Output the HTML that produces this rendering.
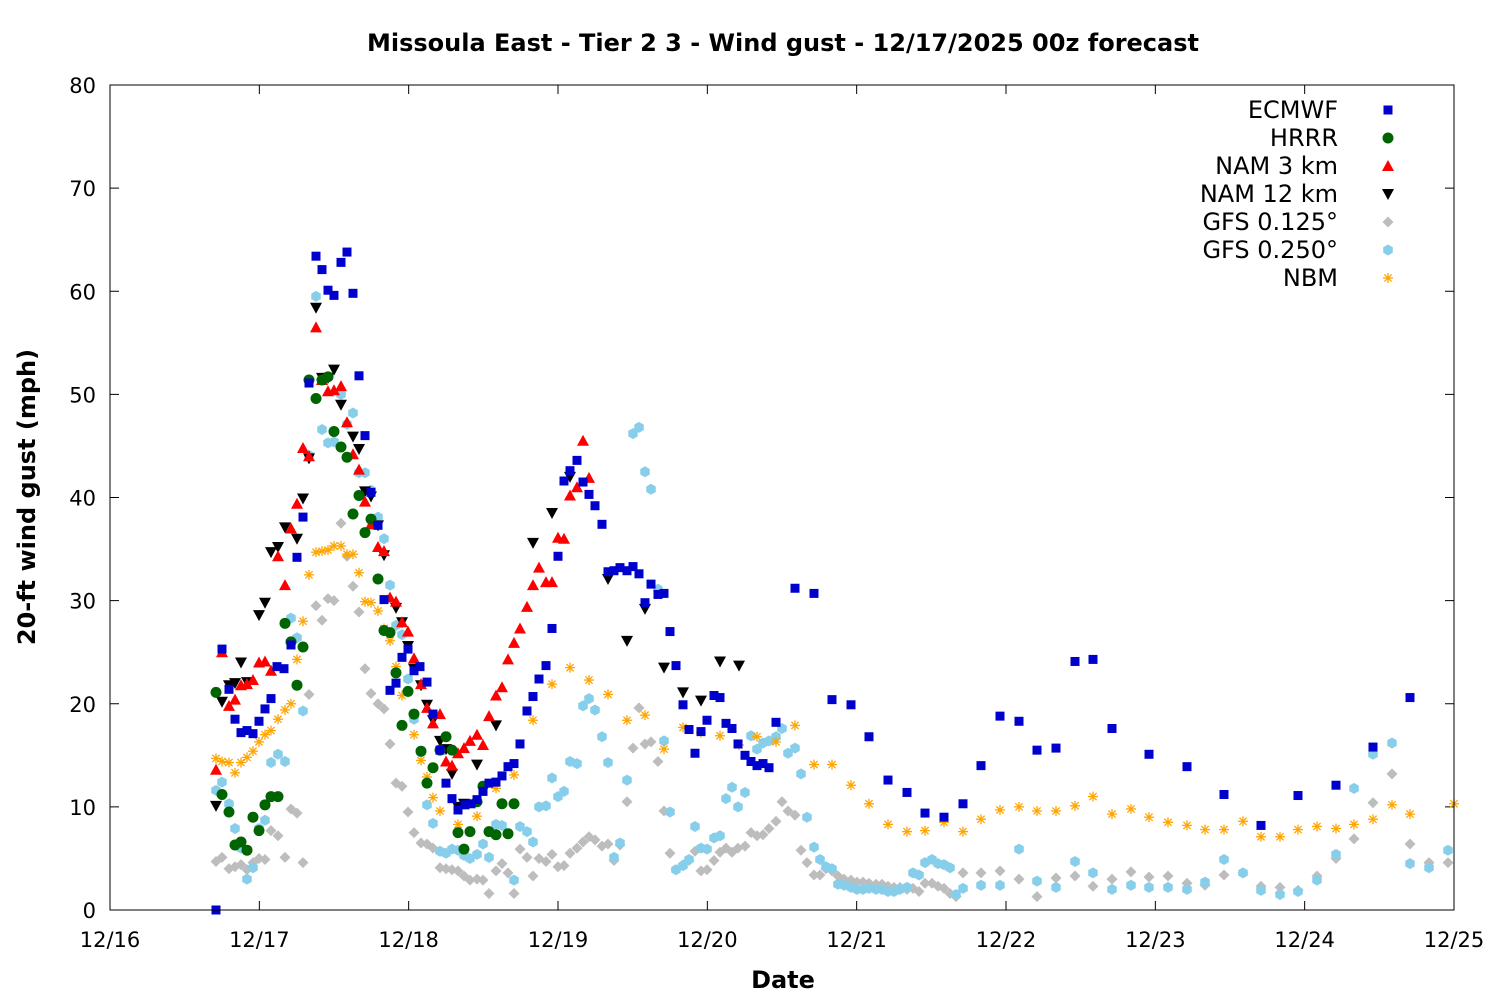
<!DOCTYPE html>
<html><head><meta charset="utf-8"><style>
body{margin:0;background:#fff}
svg{display:block;font-family:"DejaVu Sans","Liberation Sans",sans-serif}
</style></head><body>
<svg id="s" width="1500" height="1000" xmlns="http://www.w3.org/2000/svg">
<rect width="1500" height="1000" fill="#fff"/>
<text x="783" y="51" text-anchor="middle" font-size="24" font-weight="bold">Missoula East - Tier 2 3 - Wind gust - 12/17/2025 00z forecast</text>
<text x="783" y="988" text-anchor="middle" font-size="24" font-weight="bold">Date</text>
<text transform="translate(35,497) rotate(-90)" text-anchor="middle" font-size="24" font-weight="bold">20-ft wind gust (mph)</text>
<g id="ax"></g>
<g id="pts"></g>
<g id="leg" font-size="24" text-anchor="end">
<text x="1338" y="118">ECMWF</text>
<text x="1338" y="146">HRRR</text>
<text x="1338" y="174">NAM 3 km</text>
<text x="1338" y="202">NAM 12 km</text>
<text x="1338" y="230">GFS 0.125°</text>
<text x="1338" y="258">GFS 0.250°</text>
<text x="1338" y="286">NBM</text>
</g>
<rect x="110" y="85" width="1344" height="825" fill="none" stroke="#000" stroke-width="1"/>
</svg>
<script>
const NS="http://www.w3.org/2000/svg";
function el(p,t,a,txt){const e=document.createElementNS(NS,t);for(const k in a)e.setAttribute(k,a[k]);if(txt!==undefined)e.textContent=txt;p.appendChild(e);return e;}
const ax=document.getElementById('ax');
const Y=v=>910-v*825/80;
for(let i=0;i<=8;i++){const v=i*10,y=Y(v);
 el(ax,'line',{x1:110,y1:y,x2:119,y2:y,stroke:'#000'});
 el(ax,'line',{x1:1445,y1:y,x2:1454,y2:y,stroke:'#000'});
 el(ax,'text',{x:96,y:y+8,'text-anchor':'end','font-size':21},String(v));}
for(let i=0;i<=9;i++){const x=110+i*1344/9;
 el(ax,'line',{x1:x,y1:910,x2:x,y2:901,stroke:'#000'});
 el(ax,'line',{x1:x,y1:85,x2:x,y2:94,stroke:'#000'});
 el(ax,'text',{x:x,y:947,'text-anchor':'middle','font-size':21},'12/'+(16+i));}
const P=document.getElementById('pts');
function mk(t,x,y){
 if(t==0)el(P,'rect',{x:x-4.5,y:y-4.5,width:9,height:9,fill:'#0000cc'});
 else if(t==1)el(P,'circle',{cx:x,cy:y,r:5.5,fill:'#006400'});
 else if(t==2)el(P,'polygon',{points:`${x},${y-6} ${x-6},${y+5} ${x+6},${y+5}`,fill:'#ff0000'});
 else if(t==3)el(P,'polygon',{points:`${x},${y+6} ${x-6},${y-5} ${x+6},${y-5}`,fill:'#000'});
 else if(t==4)el(P,'polygon',{points:`${x},${y-5.5} ${x+5.5},${y} ${x},${y+5.5} ${x-5.5},${y}`,fill:'#bdbdbd'});
 else if(t==5){let s='';for(let k=0;k<6;k++){const a=Math.PI/3*k+Math.PI/6;s+=(x+5.5*Math.cos(a))+','+(y+5.5*Math.sin(a))+' ';}el(P,'polygon',{points:s,fill:'#87ceeb'});}
 else {const g={stroke:'#ffa500','stroke-width':1.3};
  el(P,'line',{x1:x-5,y1:y,x2:x+5,y2:y,...g});el(P,'line',{x1:x,y1:y-5,x2:x,y2:y+5,...g});
  el(P,'line',{x1:x-3.6,y1:y-3.6,x2:x+3.6,y2:y+3.6,...g});el(P,'line',{x1:x-3.6,y1:y+3.6,x2:x+3.6,y2:y-3.6,...g});}
}
const D=[
"216,0;222,25.3;229,21.4;235,18.5;241,17.2;247,17.4;253,17.1;259,18.3;265,19.5;271,20.5;277,23.6;284,23.4;291,25.7;297,34.2;303,38.1;309,51.1;316,63.4;322,62.1;328,60.1;334,59.6;341,62.8;347,63.8;353,59.8;359,51.8;365,46.0;371,40.5;378,37.3;384,30.1;390,21.3;396,22.0;402,24.5;408,25.3;414,23.2;420,23.6;427,22.1;433,19.0;440,15.5;446,12.3;452,10.8;458,9.7;465,10.2;471,10.3;477,10.7;483,11.5;489,12.3;496,12.4;502,13.0;508,13.9;514,14.2;520,16.1;527,19.3;533,20.7;539,22.4;546,23.7;552,27.3;558,34.3;564,41.6;570,42.6;577,43.6;583,41.5;589,40.3;595,39.2;602,37.4;608,32.8;614,32.9;620,33.2;627,32.9;633,33.3;639,32.6;645,29.8;651,31.6;658,30.6;664,30.7;670,27.0;676,23.7;683,19.9;689,17.5;695,15.2;701,17.3;707,18.4;714,20.8;720,20.6;726,18.1;732,17.6;738,16.1;745,15.0;751,14.4;757,14.0;763,14.2;769,13.8;776,18.2;795,31.2;814,30.7;832,20.4;851,19.9;869,16.8;888,12.6;907,11.4;925,9.4;944,9.0;963,10.3;981,14.0;1000,18.8;1019,18.3;1037,15.5;1056,15.7;1075,24.1;1093,24.3;1112,17.6;1149,15.1;1187,13.9;1224,11.2;1261,8.2;1298,11.1;1336,12.1;1373,15.8;1410,20.6",
"216,21.1;222,11.2;229,9.5;235,6.3;241,6.6;247,5.8;253,9.0;259,7.7;265,10.2;271,11.0;278,11.0;285,27.8;291,26.0;297,21.8;303,25.5;309,51.4;316,49.6;322,51.4;328,51.7;334,46.4;341,44.9;347,43.9;353,38.4;359,40.2;365,36.6;371,37.9;378,32.1;384,27.1;390,26.9;396,23.0;402,17.9;408,21.2;414,19.0;421,15.4;427,12.3;433,13.8;440,15.5;446,16.8;452,15.5;458,7.5;464,5.9;470,7.6;477,10.5;483,12.0;489,7.6;496,7.3;502,10.3;508,7.4;514,10.3",
"216,13.6;222,25.0;229,19.8;235,20.4;241,21.8;247,21.9;253,22.3;259,24.0;265,24.1;271,23.2;278,34.3;285,31.5;291,37.0;297,39.4;303,44.8;309,44.0;316,56.5;322,51.4;328,50.3;334,50.4;341,50.8;347,47.3;353,44.2;359,42.7;365,39.6;371,37.4;378,35.2;384,34.8;390,30.3;396,29.9;402,27.9;408,27.0;414,24.4;421,21.9;427,19.6;433,18.1;440,19.0;446,14.4;452,14.0;458,15.2;464,15.7;470,16.4;477,17.0;483,16.0;489,18.8;496,20.8;502,21.6;508,24.3;514,25.9;520,27.3;527,29.4;533,31.5;539,33.2;546,31.8;552,31.8;558,36.1;564,36.0;570,40.2;577,41.0;583,45.5;589,41.9",
"216,10.1;222,20.2;229,21.8;235,22.0;241,24.0;247,22.1;259,28.6;265,29.8;271,34.7;278,35.2;285,37.1;297,36.0;303,39.9;309,43.8;316,58.4;322,51.6;328,51.6;334,52.4;341,49.0;353,45.9;359,44.7;365,40.6;371,40.1;378,37.3;384,34.4;396,29.3;402,27.9;408,25.6;414,23.4;421,21.8;427,19.9;433,18.4;440,16.4;446,15.6;452,13.2;458,10.0;464,10.3;477,14.1;496,17.9;533,35.6;552,38.5;570,42.0;608,32.1;627,26.1;645,29.2;664,23.5;683,21.1;701,20.3;720,24.1;739,23.7",
"216,4.7;222,5.1;229,4.0;235,4.2;241,4.4;247,3.9;253,4.6;259,5.0;265,4.9;271,7.7;278,7.2;285,5.1;291,9.8;297,9.4;303,4.6;309,20.9;316,29.5;322,28.1;328,30.2;334,30.0;341,37.5;347,34.3;353,31.4;359,28.9;365,23.4;371,21.0;378,20.0;384,19.5;390,16.1;396,12.3;402,12.0;408,9.5;414,7.5;421,6.5;427,6.4;433,6.0;440,4.1;446,4.0;452,3.9;458,3.8;464,3.3;470,2.9;477,3.0;483,2.9;489,1.6;496,3.8;502,4.5;508,3.6;514,1.6;520,5.9;527,5.1;533,3.3;539,5.0;546,4.7;552,5.4;558,4.2;564,4.3;570,5.5;577,6.0;583,6.6;589,7.1;595,6.8;602,6.2;608,6.4;614,4.8;620,6.3;627,10.5;633,15.7;639,19.6;645,16.1;651,16.3;658,14.4;664,9.6;670,5.5;676,3.9;683,4.4;689,4.8;695,5.7;701,3.8;707,3.9;714,4.8;720,5.6;726,6.0;732,5.6;738,6.0;745,6.2;751,7.5;757,7.2;763,7.3;769,7.9;776,8.6;782,10.5;788,9.6;795,9.2;801,5.8;807,4.6;814,3.4;820,3.4;826,4.0;832,3.8;838,3.3;844,3.0;851,2.9;857,2.7;863,2.7;869,2.6;876,2.5;882,2.5;888,2.3;894,2.2;900,2.2;907,2.0;913,2.1;919,1.8;925,2.6;932,2.6;938,2.3;944,2.1;950,1.6;956,1.3;963,3.6;981,3.6;1000,3.8;1019,3.0;1037,1.3;1056,3.1;1075,3.3;1093,2.3;1112,3.0;1131,3.7;1149,3.2;1168,3.3;1187,2.6;1205,2.4;1224,3.4;1243,3.6;1261,2.3;1280,2.2;1298,1.9;1317,3.3;1336,5.0;1354,6.9;1373,10.4;1392,13.2;1410,6.4;1429,4.6;1448,4.6",
"216,11.6;222,12.4;229,10.3;235,7.9;241,6.0;247,3.0;253,4.1;259,7.9;265,8.7;271,14.3;278,15.1;285,14.4;291,28.3;297,26.4;303,19.3;309,44.1;316,59.5;322,46.6;328,45.3;334,45.4;341,50.0;347,47.1;353,48.2;359,42.4;365,42.4;371,40.7;378,38.1;384,36.0;390,31.5;396,27.6;402,26.7;408,22.4;414,18.5;421,15.3;427,10.2;433,8.4;440,5.7;446,5.5;452,5.9;458,5.8;464,5.3;470,5.0;477,5.4;483,6.4;489,5.1;496,8.3;502,8.2;508,7.4;514,2.9;520,8.1;527,7.6;533,6.6;539,10.0;546,10.1;552,12.8;558,11.0;564,11.5;570,14.4;577,14.2;583,19.8;589,20.5;595,19.4;602,16.8;608,14.3;614,5.1;620,6.5;627,12.6;633,46.2;639,46.8;645,42.5;651,40.8;658,31.1;664,16.4;670,9.5;676,3.9;683,4.3;689,4.9;695,8.1;701,6.0;707,5.9;714,7.0;720,7.2;726,10.8;732,11.9;738,10.0;745,11.4;751,16.9;757,15.6;763,16.2;769,16.4;776,16.8;782,17.6;788,15.2;795,15.7;801,13.2;807,9.0;814,6.1;820,4.9;826,4.2;832,4.0;838,2.5;844,2.4;851,2.2;857,2.0;863,2.0;869,2.1;876,2.0;882,2.0;888,1.8;894,1.8;900,2.0;907,2.2;913,3.6;919,3.4;925,4.6;932,4.9;938,4.5;944,4.4;950,4.1;956,1.5;963,2.1;981,2.4;1000,2.4;1019,5.9;1037,2.8;1056,2.2;1075,4.7;1093,3.6;1112,2.0;1131,2.4;1149,2.2;1168,2.2;1187,2.0;1205,2.7;1224,4.9;1243,3.6;1261,1.9;1280,1.5;1298,1.8;1317,2.9;1336,5.4;1354,11.8;1373,15.1;1392,16.2;1410,4.5;1429,4.1;1448,5.8",
"216,14.7;222,14.4;229,14.3;235,13.3;241,14.3;247,14.8;253,15.4;259,16.3;265,17.0;271,17.4;278,18.5;285,19.4;291,20.0;297,24.3;303,28.0;309,32.5;316,34.7;322,34.8;328,34.9;334,35.3;341,35.3;347,34.5;353,34.5;359,32.7;365,29.9;371,29.8;378,29.0;384,27.3;390,26.1;396,23.6;402,20.8;408,21.1;414,17.0;421,14.5;427,12.9;433,10.9;440,9.6;458,8.3;477,9.1;496,11.8;514,13.1;533,18.4;552,21.9;570,23.5;589,22.3;608,20.9;627,18.4;645,18.9;664,15.6;683,17.7;701,17.2;720,16.9;739,16.0;757,16.8;776,16.3;795,17.9;814,14.1;832,14.1;851,12.1;869,10.3;888,8.3;907,7.6;925,7.7;944,8.5;963,7.6;981,8.8;1000,9.7;1019,10.0;1037,9.6;1056,9.6;1075,10.1;1093,11.0;1112,9.3;1131,9.8;1149,9.0;1168,8.5;1187,8.2;1205,7.8;1224,7.8;1243,8.6;1261,7.1;1280,7.1;1298,7.8;1317,8.1;1336,7.9;1354,8.3;1373,8.8;1392,10.2;1410,9.3;1454,10.3"];
const order=[4,5,6,3,2,1,0];
for(const t of order){for(const p of D[t].split(';')){const [x,v]=p.split(',').map(Number);mk(t,x,Y(v));}}
for(let t=0;t<7;t++)mk(t,1388,110+28*t);
</script>
</body></html>
